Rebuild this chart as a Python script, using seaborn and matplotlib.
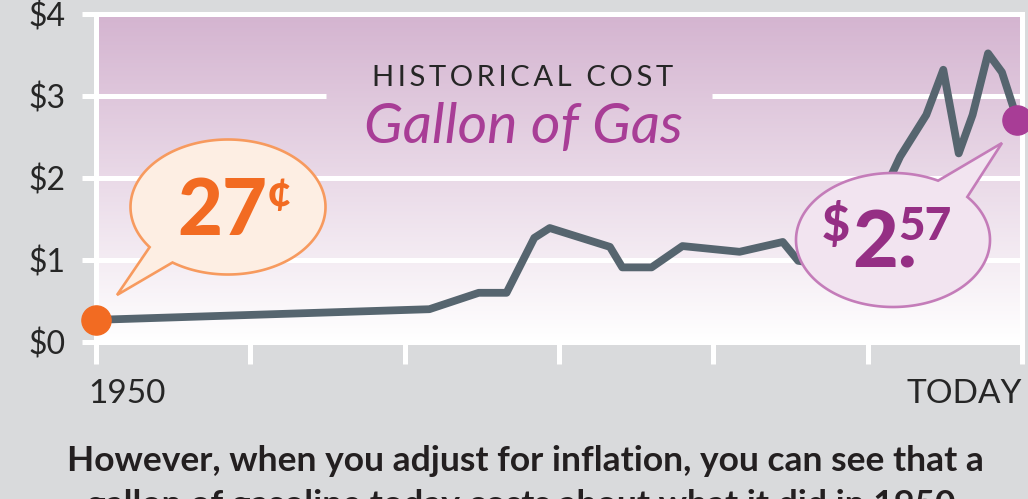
import numpy as np
import matplotlib
matplotlib.use("Agg")
import matplotlib.pyplot as plt
import matplotlib.transforms as mtransforms
import seaborn as sns
from matplotlib.patches import Polygon
from matplotlib.colors import LinearSegmentedColormap

# Data

years = [1950, 1971.6, 1974.8, 1976.6, 1978.4, 1979.4, 1983.3, 1984.1, 1986.0,
         1988.0, 1991.7, 1994.5, 1995.5, 1997.0, 1999.0, 2000.8, 2001.6, 2002.1,
         2003.8, 2004.9, 2005.9, 2006.8, 2007.8, 2008.7, 2009.7]
prices = [0.27, 0.40, 0.60, 0.60, 1.27, 1.39, 1.16, 0.91, 0.91,
          1.17, 1.10, 1.22, 0.99, 0.95, 1.20, 1.60, 2.06, 2.26,
          2.77, 3.32, 2.30, 2.77, 3.52, 3.29, 2.71]

y_ticks = [0, 1, 2, 3, 4]
y_labels = ["$0", "$1", "$2", "$3", "$4"]
x_ticks = [1950, 1960, 1970, 1980, 1990, 2000, 2010]
x_labels = ["1950", "", "", "", "", "", "TODAY"]

title_small = "HISTORICAL COST"
title_big = "Gallon of Gas"
start_label = ("27", "\u00a2")
end_label = ("$", "2.", "57")
caption = ["However, when you adjust for inflation, you can see that a",
           "gallon of gasoline today costs about what it did in 1950."]

# Colours

GRAY = "#d9dadc"
LINE = "#56656f"
ORANGE = "#f26b22"
PURPLE = "#a83d96"
DARK_PURPLE = "#952f84"
TEXT = "#262626"

sns.set_style("white")
plt.rcParams["font.family"] = ["Lato", "DejaVu Sans"]

W, H = 1028, 499
fig = plt.figure(figsize=(W / 100, H / 100), dpi=100, facecolor=GRAY)

left, right, top, bottom = 96, 1022, 14, 342
ax = fig.add_axes([left / W, (H - bottom) / H, (right - left) / W, (bottom - top) / H])
ax.set_facecolor(GRAY)
ax.set_xlim(1950, 2010)
ax.set_ylim(0, 4)

# gradient background
grad = LinearSegmentedColormap.from_list("g", ["#ffffff", "#d4b4d0"])
ax.imshow(np.linspace(0, 1, 256).reshape(-1, 1), cmap=grad, origin="lower",
          extent=(1950, 2010, 0, 4), aspect="auto", zorder=0)

# white grid lines, the $3 one broken for the title
ax.hlines([1, 2], 1950, 2010, color="white", lw=3.6, zorder=1)
ax.hlines(3, 1950, 1964.9, color="white", lw=3.6, zorder=1)
ax.hlines(3, 1989.9, 2010, color="white", lw=3.6, zorder=1)

for s in ax.spines.values():
    s.set_color("white")
    s.set_linewidth(3.6)
    s.set_zorder(2)

sns.lineplot(x=years, y=prices, ax=ax, color=LINE, linewidth=5.6, zorder=3)
ax.plot(years[0], prices[0], "o", ms=21, color=ORANGE, zorder=4, clip_on=False)
ax.plot(years[-1], prices[-1], "o", ms=21, color=PURPLE, zorder=4, clip_on=False)

ax.set_yticks(y_ticks)
ax.set_yticklabels(y_labels)
ax.set_xticks(x_ticks)
ax.set_xticklabels(x_labels)
ax.tick_params(axis="y", left=True, direction="out", length=10, width=3.6,
               color="white", pad=12, labelsize=23, labelcolor=TEXT)
ax.tick_params(axis="x", bottom=True, direction="out", length=15.5, width=3.6,
               color="white", pad=11, labelsize=24, labelcolor=TEXT)
xl = ax.get_xticklabels()
xl[0].set_ha("left")
xl[0].set_transform(xl[0].get_transform() +
                    mtransforms.ScaledTranslation(-0.08, 0, fig.dpi_scale_trans))
xl[-1].set_ha("right")
ax.set_xlabel("")
ax.set_ylabel("")

# overlay in pixel coordinates for titles, bubbles and caption
ov = fig.add_axes([0, 0, 1, 1], zorder=5)
ov.set_xlim(0, W)
ov.set_ylim(H, 0)
ov.axis("off")
ov.patch.set_alpha(0)

spaced = "\u2009 \u2009".join("\u2009".join(w) for w in title_small.split())
ov.text(523, 86, spaced, ha="center", va="baseline", fontsize=21, color=TEXT)
ov.text(523, 143, title_big, ha="center", va="baseline", fontsize=41,
        style="italic", color=PURPLE)


def bubble(cx, cy, rx, ry, a_from, a_to, tip, face, edge):
    t = np.radians(np.linspace(a_from, a_to, 300))
    pts = np.column_stack([cx + rx * np.cos(t), cy + ry * np.sin(t)])
    pts = np.vstack([pts, tip])
    ov.add_patch(Polygon(pts, closed=True, facecolor=face, edgecolor=edge,
                         lw=1.9, joinstyle="miter"))


bubble(228, 207, 97.5, 67.5, 143.5, 484.7, (117, 295), "#fdeee3", "#f79a5e")
ov.text(267, 235, start_label[0], ha="right", va="baseline", fontsize=56,
        fontweight="black", color=ORANGE)
ov.text(267, 206, start_label[1], ha="left", va="baseline", fontsize=31,
        fontweight="black", color=ORANGE)

bubble(893, 240, 97, 67, -40, 297.7, (1002, 143), "#f2e4f0", "#c47cb9")
ov.text(822, 241, end_label[0], ha="left", va="baseline", fontsize=35,
        fontweight="black", color=DARK_PURPLE)
ov.text(852, 267, end_label[1], ha="left", va="baseline", fontsize=57,
        fontweight="black", color=DARK_PURPLE)
ov.text(898, 240, end_label[2], ha="left", va="baseline", fontsize=33,
        fontweight="black", color=DARK_PURPLE)

ov.text(525, 471, caption[0], ha="center", va="baseline", fontsize=25.5,
        fontweight="bold", color="#231f20")
ov.text(525, 515, caption[1], ha="center", va="baseline", fontsize=25.5,
        fontweight="bold", color="#231f20")

fig.savefig("out.png", dpi=100, facecolor=GRAY)
